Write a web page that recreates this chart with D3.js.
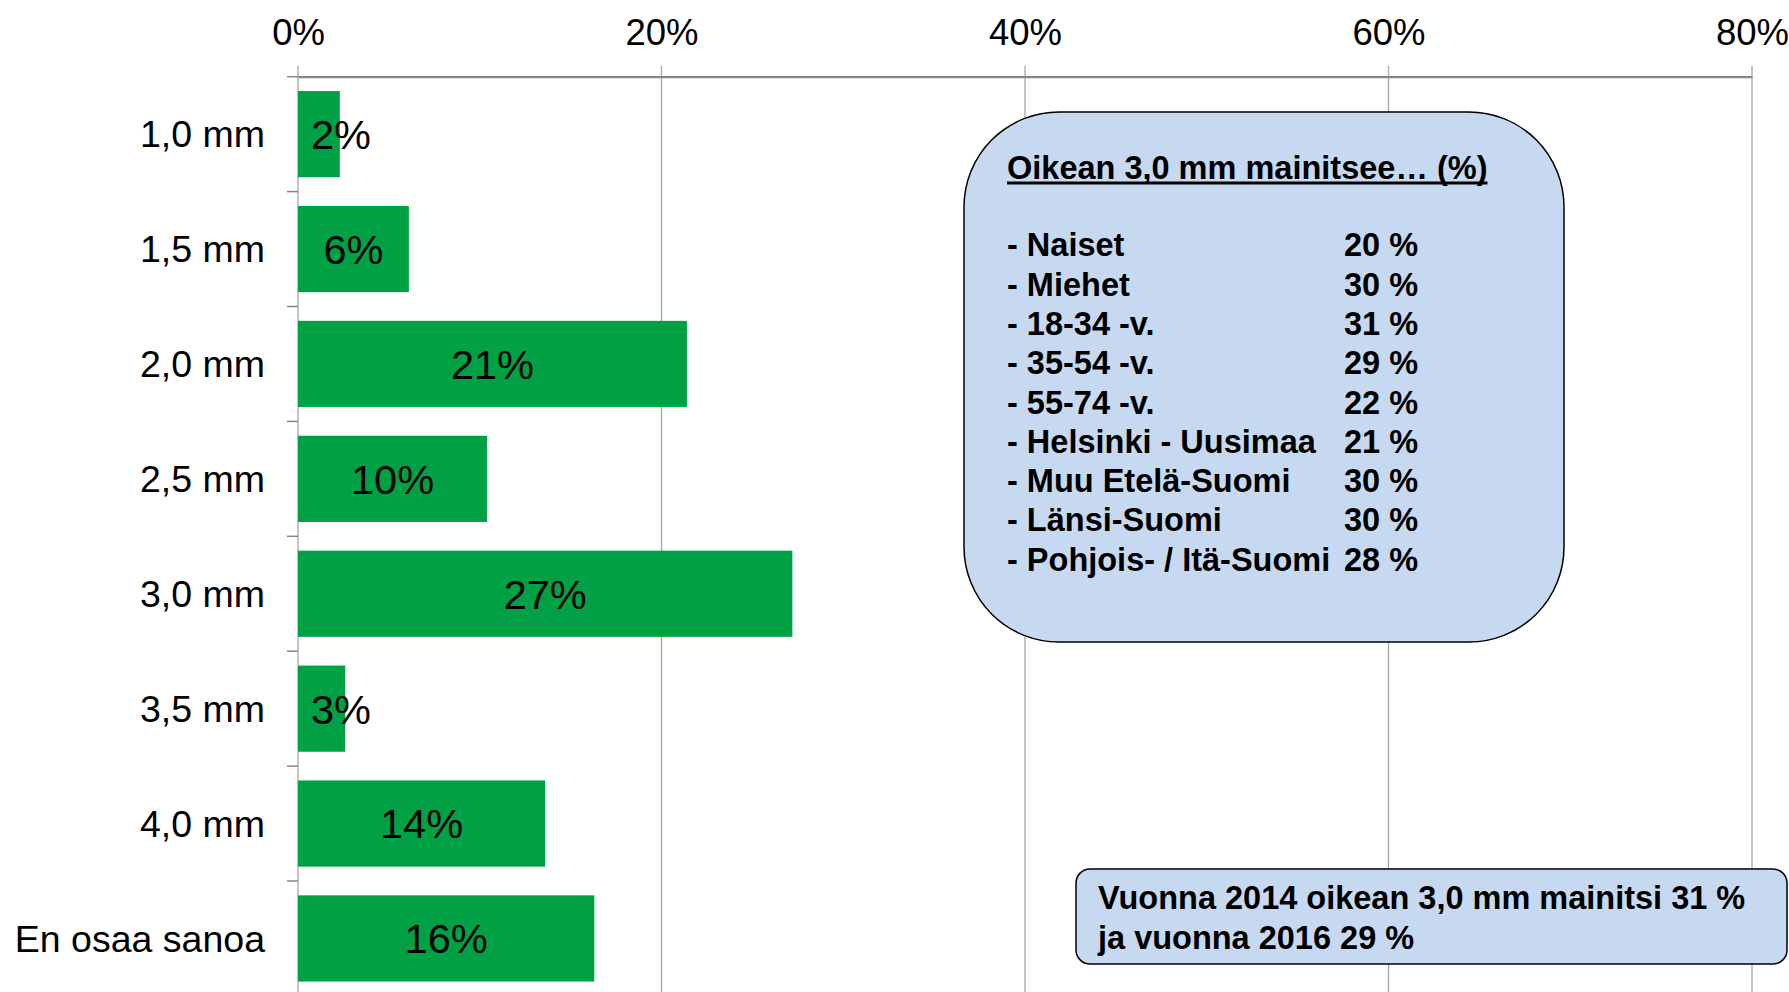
<!DOCTYPE html>
<html>
<head>
<meta charset="utf-8">
<script src="https://cdn.jsdelivr.net/npm/d3@7"></script>
<style>
  body { margin: 0; background: #fff; }
  svg { display: block; font-family: "Liberation Sans", Arial, sans-serif; }
</style>
</head>
<body>
<div class="chart"></div>
<script>
// data
var categories = ["1,0 mm", "1,5 mm", "2,0 mm", "2,5 mm", "3,0 mm", "3,5 mm", "4,0 mm", "En osaa sanoa"];
var values = [2.3, 6.1, 21.4, 10.4, 27.2, 2.6, 13.6, 16.3];
var xTicks = [0, 20, 40, 60, 80];

var groupNames = ["- Naiset", "- Miehet", "- 18-34 -v.", "- 35-54 -v.", "- 55-74 -v.",
  "- Helsinki - Uusimaa", "- Muu Etelä-Suomi", "- Länsi-Suomi", "- Pohjois- / Itä-Suomi"];
var groupValues = ["20 %", "30 %", "31 %", "29 %", "22 %", "21 %", "30 %", "30 %", "28 %"];
var boxTitle = "Oikean 3,0 mm mainitsee… (%)";
var noteLines = ["Vuonna 2014 oikean 3,0 mm mainitsi 31 %", "ja vuonna 2016 29 %"];

var width = 1789;
var height = 992;
var margin = { "top": 76.7, "left": 298, "right": 37 };
var bandStep = 114.9; // the last band runs a little past the bottom edge

var svg = d3.select("div.chart").append("svg").attr("width", width).attr("height", height);

var xScale = d3.scaleLinear()
  .domain([0, 80])
  .range([margin.left, width - margin.right]);

var yScale = d3.scaleBand()
  .domain(categories)
  .range([margin.top, margin.top + bandStep * categories.length])
  .paddingInner(0.25)
  .paddingOuter(0.125);

// grid lines
svg.append("g")
  .selectAll("line")
  .data(xTicks)
  .enter().append("line")
  .attr("x1", function(d) { return xScale(d); })
  .attr("x2", function(d) { return xScale(d); })
  .attr("y1", margin.top - 11)
  .attr("y2", height)
  .attr("stroke", "#a6a6a6")
  .attr("stroke-width", 1.3);

// top axis
var axisx = d3.axisTop(xScale).tickValues(xTicks).tickSize(0).tickPadding(0)
  .tickFormat(function(d) { return d + "%"; });
var gx = svg.append("g")
  .attr("transform", "translate(0," + margin.top + ")")
  .call(axisx);
gx.select(".domain").attr("stroke", "#868686").attr("stroke-width", 2.2);
gx.selectAll("text")
  .attr("y", -44)
  .attr("dy", "0.35em")
  .attr("font-size", "36.5px")
  .attr("font-family", "Liberation Sans, Arial, sans-serif")
  .attr("fill", "#000");

// left axis with ticks at band boundaries
var step = yScale.step();
var boundaries = categories.map(function(c) { return yScale(c) - step * 0.125; });
svg.append("g").selectAll("line")
  .data(boundaries)
  .enter().append("line")
  .attr("x1", margin.left - 11)
  .attr("x2", margin.left)
  .attr("y1", function(d) { return d; })
  .attr("y2", function(d) { return d; })
  .attr("stroke", "#868686")
  .attr("stroke-width", 1.5);

svg.selectAll("text.cat")
  .data(categories)
  .enter().append("text")
  .attr("class", "cat")
  .attr("x", margin.left - 33)
  .attr("y", function(d) { return yScale(d) + yScale.bandwidth() / 2; })
  .attr("dy", "0.35em")
  .attr("text-anchor", "end")
  .attr("font-size", "37.5px")
  .text(function(d) { return d; });

// bars
svg.selectAll("rect.bar")
  .data(values)
  .enter().append("rect")
  .attr("class", "bar")
  .attr("x", xScale(0))
  .attr("y", function(d, i) { return yScale(categories[i]); })
  .attr("width", function(d) { return xScale(d) - xScale(0); })
  .attr("height", yScale.bandwidth())
  .attr("fill", "#00a045");

// bar labels
svg.selectAll("text.val")
  .data(values)
  .enter().append("text")
  .attr("class", "val")
  .attr("y", function(d, i) { return yScale(categories[i]) + yScale.bandwidth() / 2; })
  .attr("dy", "0.36em")
  .attr("text-anchor", "middle")
  .attr("font-size", "41.5px")
  .text(function(d) { return Math.round(d) + "%"; })
  .attr("x", function(d) {
    var w = this.getComputedTextLength();
    var c = (xScale(0) + xScale(d)) / 2;
    return Math.max(c, xScale(0) + 13 + w / 2);
  });

// info box
var box = svg.append("g");
box.append("rect")
  .attr("x", 964).attr("y", 112)
  .attr("width", 600).attr("height", 530)
  .attr("rx", 95).attr("ry", 95)
  .attr("fill", "#c6d9f1")
  .attr("stroke", "#000")
  .attr("stroke-width", 1.5);

var title = box.append("text")
  .attr("x", 1007).attr("y", 168)
  .attr("dy", "0.35em")
  .attr("font-size", "32.5px")
  .attr("font-weight", "bold")
  .text(boxTitle);
var tw = title.node().getComputedTextLength();
box.append("line")
  .attr("x1", 1007).attr("x2", 1007 + tw)
  .attr("y1", 183).attr("y2", 183)
  .attr("stroke", "#000")
  .attr("stroke-width", 3);

box.selectAll("text.gname")
  .data(groupNames)
  .enter().append("text")
  .attr("class", "gname")
  .attr("x", 1007)
  .attr("y", function(d, i) { return 245 + i * 39.3; })
  .attr("dy", "0.35em")
  .attr("font-size", "32.5px")
  .attr("font-weight", "bold")
  .text(function(d) { return d; });

box.selectAll("text.gval")
  .data(groupValues)
  .enter().append("text")
  .attr("class", "gval")
  .attr("x", 1344)
  .attr("y", function(d, i) { return 245 + i * 39.3; })
  .attr("dy", "0.35em")
  .attr("font-size", "32.5px")
  .attr("font-weight", "bold")
  .text(function(d) { return d; });

// note box
var note = svg.append("g");
note.append("rect")
  .attr("x", 1076).attr("y", 869)
  .attr("width", 711).attr("height", 95)
  .attr("rx", 14).attr("ry", 14)
  .attr("fill", "#c6d9f1")
  .attr("stroke", "#000")
  .attr("stroke-width", 1.5);

note.selectAll("text")
  .data(noteLines)
  .enter().append("text")
  .attr("x", 1098)
  .attr("y", function(d, i) { return 898 + i * 40; })
  .attr("dy", "0.35em")
  .attr("font-size", "32.5px")
  .attr("font-weight", "bold")
  .text(function(d) { return d; });
</script>
</body>
</html>
